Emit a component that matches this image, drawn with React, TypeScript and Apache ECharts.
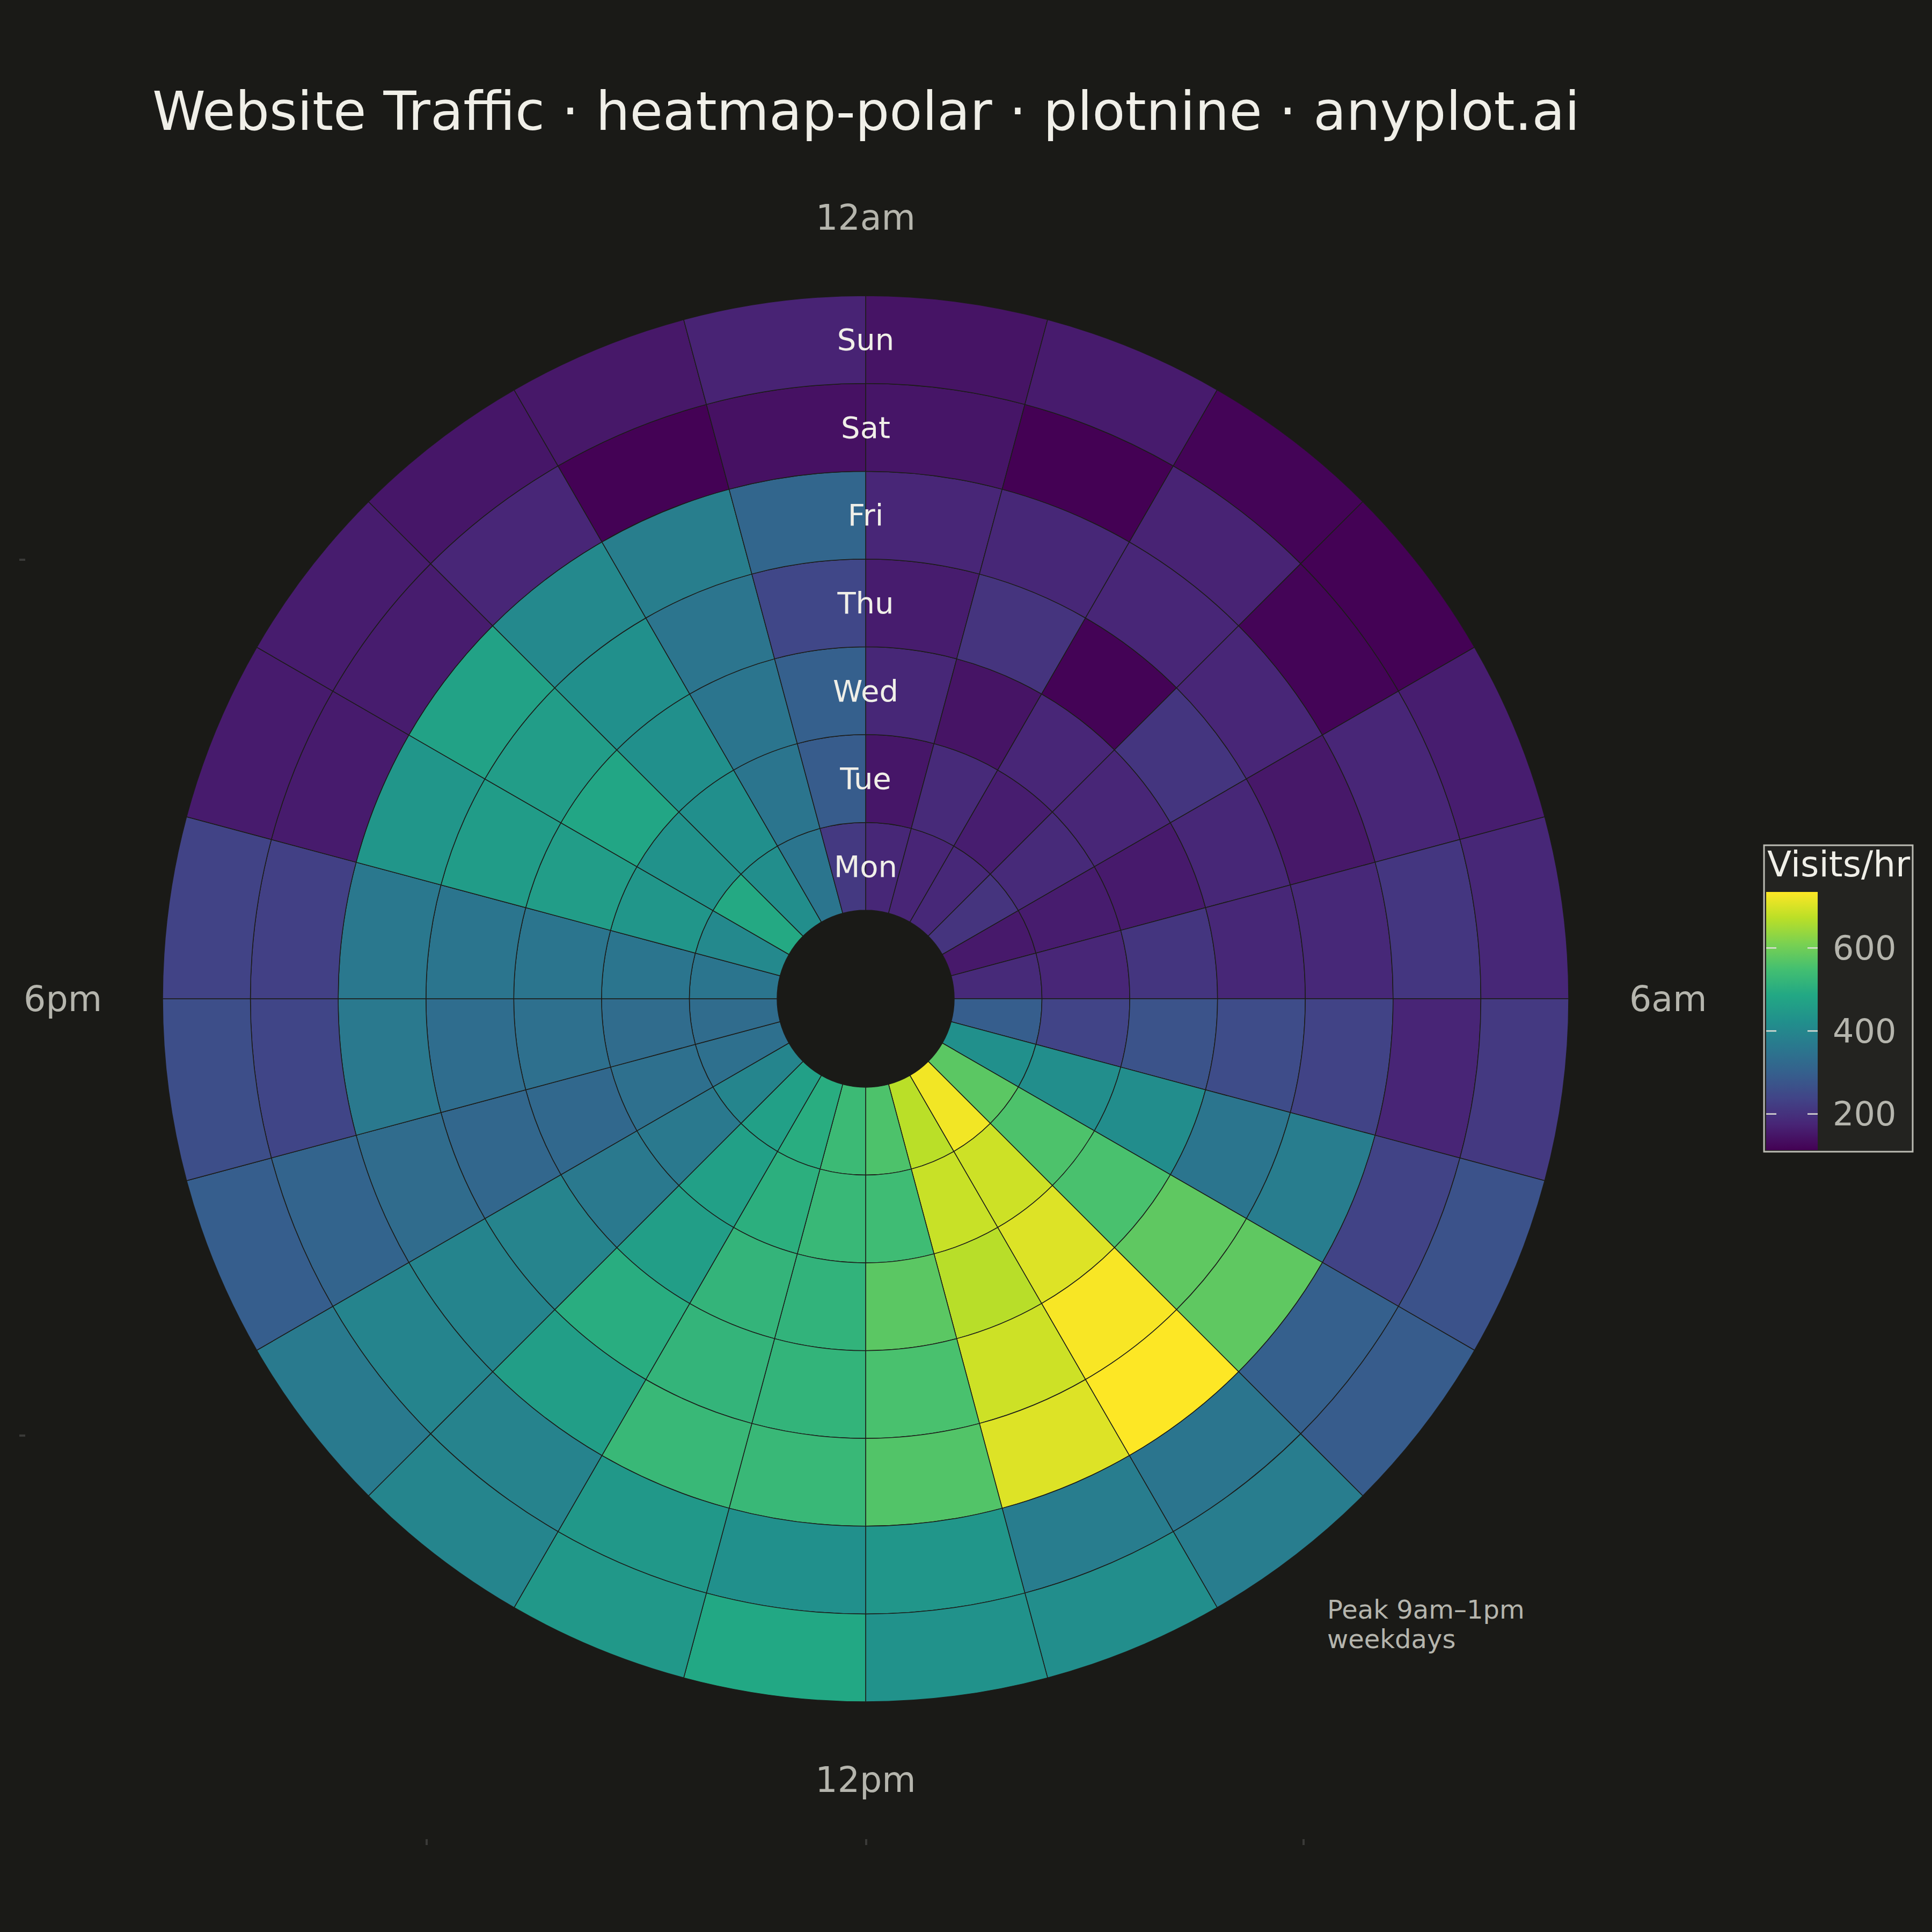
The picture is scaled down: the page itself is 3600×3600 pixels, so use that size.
import React, { useEffect, useRef } from "react";
import * as echarts from "echarts";

// ---- data ----
const DAYS = ["Mon", "Tue", "Wed", "Thu", "Fri", "Sat", "Sun"];
const HOUR_TICKS = [0, 6, 12, 18];
const HOUR_TICK_LABELS = ["12am", "6am", "12pm", "6pm"];

const MON = [180, 175, 182, 205, 155, 185, 295, 424, 575, 725, 672, 560, 535, 500, 465, 395, 340, 330, 355, 405, 490, 420, 355, 215];
const TUE = [150, 185, 162, 185, 160, 178, 238, 420, 560, 690, 685, 540, 530, 505, 465, 365, 342, 330, 355, 440, 430, 422, 355, 290];
const WED = [180, 145, 178, 178, 157, 208, 270, 415, 555, 705, 670, 575, 517, 520, 460, 365, 320, 342, 355, 458, 480, 425, 355, 300];
const THU = [160, 205, 116, 208, 180, 180, 255, 355, 580, 730, 690, 555, 518, 520, 500, 392, 318, 332, 355, 455, 458, 425, 353, 245];
const FRI = [178, 180, 178, 178, 152, 182, 235, 375, 580, 735, 705, 565, 530, 530, 460, 393, 330, 365, 362, 440, 470, 405, 378, 315];
const SAT = [148, 113, 172, 118, 178, 210, 175, 235, 300, 355, 375, 440, 425, 445, 390, 393, 310, 240, 230, 158, 160, 178, 115, 140];
const SUN = [145, 158, 118, 115, 162, 180, 215, 268, 290, 375, 420, 430, 486, 445, 395, 368, 295, 260, 235, 158, 160, 150, 152, 172];
const DAY_ROWS = [MON, TUE, WED, THU, FRI, SAT, SUN];

const COLORBAR_TICKS = [200, 400, 600];
const VIRIDIS = ["#440154", "#482576", "#414487", "#35608D", "#2A788E", "#21908C", "#22A884", "#43BF71", "#7AD151", "#BBDF27", "#FDE725"];

const TITLE = "Website Traffic · heatmap-polar · plotnine · anyplot.ai";
const NOTE = "Peak 9am–1pm\nweekdays";

const FONT = "DejaVu Sans";
const BG = "#1a1a17";

export default function App() {
  const ref = useRef<HTMLDivElement>(null);

  useEffect(() => {
    document.body.style.margin = "0";
    if (!ref.current) return;
    const chart = echarts.init(ref.current, undefined, { renderer: "svg" });

    const cells: number[][] = [];
    DAY_ROWS.forEach((row, d) => row.forEach((v, h) => cells.push([d, h, v])));
    const all = DAY_ROWS.flat();
    const vmin = Math.min(...all);
    const vmax = Math.max(...all);

    // colorbar geometry (guide)
    const cbX = 3291, cbTop = 1662, cbBottom = 2143, cbW = 96;
    const cbY = (v: number) => cbBottom - ((v - vmin) / (vmax - vmin)) * (cbBottom - cbTop);

    const gradStops = VIRIDIS.map((c, i) => ({ offset: i / (VIRIDIS.length - 1), color: c }));

    const faintTick = { stroke: "#3a3a38", lineWidth: 4 };

    const graphics: any[] = [
      {
        type: "rect",
        shape: { x: 3287, y: 1575, width: 277, height: 571 },
        style: { fill: "#232320", stroke: "#bcbcb4", lineWidth: 3 },
      },
      {
        type: "text",
        x: 3293,
        y: 1610,
        style: { text: "Visits/hr", fill: "#f0efe8", font: `66px '${FONT}'`, textAlign: "left", textVerticalAlign: "middle" },
      },
      {
        type: "rect",
        shape: { x: cbX, y: cbTop, width: cbW, height: cbBottom - cbTop },
        style: { fill: new echarts.graphic.LinearGradient(0, 1, 0, 0, gradStops) },
      },
      {
        type: "text",
        x: 2473,
        y: 2971,
        style: { text: NOTE, fill: "#b5b5ad", font: `48px '${FONT}'`, lineHeight: 55, textAlign: "left", textVerticalAlign: "top" },
      },
      // faint leftover panel ticks
      { type: "line", shape: { x1: 36, y1: 1043, x2: 47, y2: 1043 }, style: faintTick },
      { type: "line", shape: { x1: 36, y1: 2675, x2: 47, y2: 2675 }, style: faintTick },
      { type: "line", shape: { x1: 795, y1: 3427, x2: 795, y2: 3438 }, style: faintTick },
      { type: "line", shape: { x1: 1614, y1: 3427, x2: 1614, y2: 3438 }, style: faintTick },
      { type: "line", shape: { x1: 2429, y1: 3427, x2: 2429, y2: 3438 }, style: faintTick },
    ];
    COLORBAR_TICKS.forEach((t) => {
      const y = cbY(t);
      graphics.push(
        { type: "line", shape: { x1: cbX, y1: y, x2: cbX + 19, y2: y }, style: { stroke: "#deded6", lineWidth: 2.5 } },
        { type: "line", shape: { x1: cbX + cbW - 19, y1: y, x2: cbX + cbW, y2: y }, style: { stroke: "#deded6", lineWidth: 2.5 } },
        {
          type: "text",
          x: 3415,
          y: y,
          style: { text: String(t), fill: "#b5b5ad", font: `62px '${FONT}'`, textAlign: "left", textVerticalAlign: "middle" },
        }
      );
    });

    const option: any = {
      animation: false,
      backgroundColor: BG,
      title: {
        text: TITLE,
        left: 279,
        top: 152,
        textStyle: { color: "#f0efe8", fontSize: 100, fontWeight: "normal", fontFamily: FONT },
      },
      polar: { center: [1613, 1861], radius: [165, 1310] },
      angleAxis: {
        type: "value",
        min: 0,
        max: 24,
        interval: 6,
        startAngle: 90,
        clockwise: true,
        axisLine: { show: false },
        axisTick: { show: false },
        splitLine: { show: false },
        axisLabel: {
          margin: 113,
          color: "#b5b5ad",
          fontSize: 65,
          fontFamily: FONT,
          formatter: (v: number) => {
            const i = HOUR_TICKS.indexOf(v);
            return i >= 0 ? HOUR_TICK_LABELS[i] : "";
          },
        },
      },
      radiusAxis: {
        type: "value",
        min: 0,
        max: DAYS.length,
        axisLine: { show: false },
        axisTick: { show: false },
        axisLabel: { show: false },
        splitLine: { show: false },
      },
      visualMap: {
        show: false,
        type: "continuous",
        seriesIndex: 0,
        dimension: 2,
        min: vmin,
        max: vmax,
        inRange: { color: VIRIDIS },
      },
      series: [
        {
          type: "custom",
          coordinateSystem: "polar",
          data: cells,
          renderItem: (params: any, api: any) => {
            const d = api.value(0);
            const h = api.value(1);
            const p0 = api.coord([d, h]);
            const p1 = api.coord([d + 1, h + 1]);
            const cs = params.coordSys;
            return {
              type: "sector",
              shape: {
                cx: cs.cx,
                cy: cs.cy,
                r0: p0[2],
                r: p1[2],
                startAngle: -p0[3],
                endAngle: -p1[3],
                clockwise: true,
              },
              style: { fill: api.visual("color"), stroke: "#1c1c19", lineWidth: 1.5 },
            };
          },
        },
        {
          type: "custom",
          coordinateSystem: "polar",
          data: DAYS.map((_, i) => [i + 0.5, 0]),
          z: 5,
          renderItem: (params: any, api: any) => {
            const p = api.coord([api.value(0), api.value(1)]);
            return {
              type: "text",
              x: p[0],
              y: p[1],
              style: {
                text: DAYS[params.dataIndex],
                fill: "#f0efe8",
                font: `56px '${FONT}'`,
                textAlign: "center",
                textVerticalAlign: "middle",
              },
            };
          },
        },
      ],
      graphic: graphics,
    };

    chart.setOption(option);
    return () => chart.dispose();
  }, []);

  return <div ref={ref} style={{ width: 3600, height: 3600 }} />;
}
